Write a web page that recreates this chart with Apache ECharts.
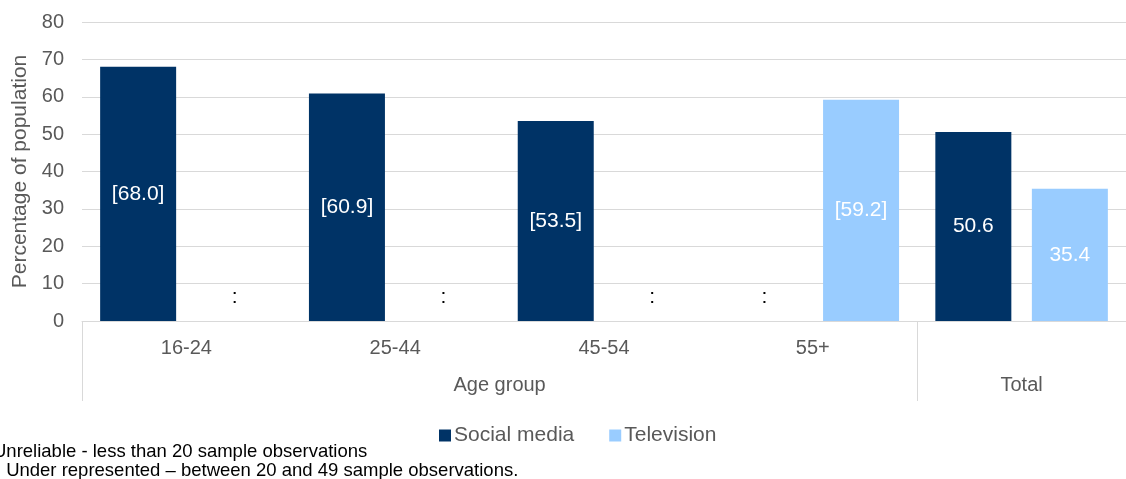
<!DOCTYPE html>
<html>
<head>
<meta charset="utf-8">
<script src="https://cdn.jsdelivr.net/npm/echarts@6/dist/echarts.min.js"></script>
<style>
  html, body { margin: 0; padding: 0; background: #fff; }
  #chart { width: 1126px; height: 479px; }
</style>
</head>
<body>
<div id="chart"></div>
<script>
// data
const categories = ['16-24', '25-44', '45-54', '55+', 'Total'];
const socialValues = [68.0, 60.9, 53.5, null, 50.6];
const tvValues = [null, null, null, 59.2, 35.4];
// 'u' = under represented (bracketed), '' = normal, null value = unreliable (':')
const socialFlags = ['u', 'u', 'u', '', ''];
const tvFlags = ['', '', '', 'u', ''];
const groupLabels = ['Age group', 'Total'];
const yTicks = [0, 10, 20, 30, 40, 50, 60, 70, 80];
const footnotes = [
    'Unreliable - less than 20 sample observations',
    ' Under represented \u2013 between 20 and 49 sample observations.'
];

const NAVY = '#003366';
const LIGHT = '#99ccff';
const GRID_GRAY = '#d9d9d9';
const TEXT_GRAY = '#595959';
const FONT = 'Liberation Sans, Arial, sans-serif';

// build bar items, missing ones get a ':' marker at the bottom
function buildItems(values, flags) {
    return values.map((v, i) => {
        if (v === null) {
            return {
                value: 0,
                label: {
                    show: true,
                    position: 'insideBottom',
                    distance: 13,
                    formatter: ':',
                    color: '#000'
                }
            };
        }
        const txt = v.toFixed(1);
        return {
            value: v,
            label: {
                show: true,
                formatter: flags[i] === 'u' ? '[' + txt + ']' : txt
            }
        };
    });
}

const chart = echarts.init(document.getElementById('chart'));

const option = {
    animation: false,
    textStyle: { fontFamily: FONT },
    title: [
        {
            text: footnotes[0],
            left: -12,
            top: 437,
            textStyle: { fontSize: 18.5, fontWeight: 'normal', color: '#000', fontFamily: FONT }
        },
        {
            text: footnotes[1],
            left: -4,
            top: 456,
            textStyle: { fontSize: 18.5, fontWeight: 'normal', color: '#000', fontFamily: FONT }
        }
    ],
    legend: {
        left: 434,
        top: 420,
        itemWidth: 12,
        itemHeight: 12,
        itemGap: 35,
        icon: 'rect',
        textStyle: { fontSize: 21, color: TEXT_GRAY, fontFamily: FONT, padding: [0, 0, 0, -2] },
        data: ['Social media', 'Television']
    },
    grid: {
        left: 82,
        right: -8,
        top: 22,
        bottom: 158,
        containLabel: false
    },
    xAxis: [
        {
            type: 'category',
            data: categories.map((c, i) => i === categories.length - 1 ? '' : c),
            axisLine: { show: true, lineStyle: { color: GRID_GRAY, width: 1 } },
            axisTick: { show: false },
            axisLabel: {
                fontSize: 20,
                color: TEXT_GRAY,
                margin: 17,
                fontFamily: FONT
            }
        },
        {
            // second level of the category axis: groups
            type: 'value',
            position: 'bottom',
            min: 0,
            max: categories.length,
            axisLine: { show: false },
            splitLine: { show: false },
            axisTick: {
                show: true,
                customValues: [0, 4],
                length: 80,
                lineStyle: { color: GRID_GRAY, width: 1 }
            },
            axisLabel: {
                customValues: [2, 4.5],
                formatter: v => v === 2 ? groupLabels[0] : groupLabels[1],
                fontSize: 20,
                color: TEXT_GRAY,
                margin: 54,
                fontFamily: FONT
            }
        }
    ],
    yAxis: {
        type: 'value',
        min: yTicks[0],
        max: yTicks[yTicks.length - 1],
        interval: 10,
        name: 'Percentage of population',
        nameLocation: 'middle',
        nameGap: 50,
        nameRotate: 90,
        nameTextStyle: { fontSize: 21, color: TEXT_GRAY, fontFamily: FONT },
        axisLine: { show: false },
        axisTick: { show: false },
        axisLabel: { fontSize: 20, color: TEXT_GRAY, margin: 18, fontFamily: FONT },
        splitLine: { lineStyle: { color: GRID_GRAY, width: 1 } }
    },
    series: [
        {
            name: 'Social media',
            type: 'bar',
            xAxisIndex: 0,
            barWidth: 76,
            barGap: '27%',
            itemStyle: { color: NAVY },
            label: { show: true, position: 'inside', fontSize: 21, color: '#fff', fontFamily: FONT },
            data: buildItems(socialValues, socialFlags)
        },
        {
            name: 'Television',
            type: 'bar',
            xAxisIndex: 0,
            barWidth: 76,
            barGap: '27%',
            itemStyle: { color: LIGHT },
            label: { show: true, position: 'inside', fontSize: 21, color: '#fff', fontFamily: FONT },
            data: buildItems(tvValues, tvFlags)
        }
    ]
};

chart.setOption(option);
</script>
</body>
</html>
